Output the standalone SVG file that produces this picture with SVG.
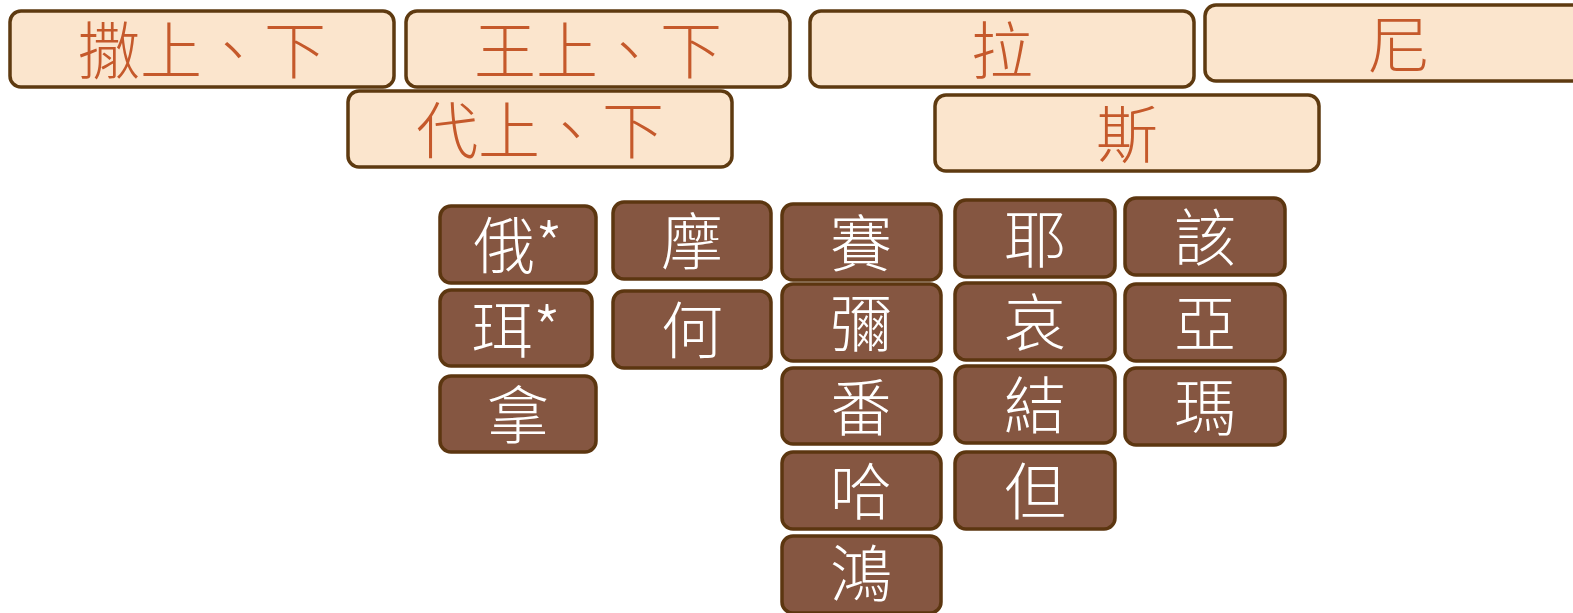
<svg xmlns="http://www.w3.org/2000/svg" width="1573" height="613" viewBox="0 0 1573 613">
<style>
text{font-family:"Noto Sans CJK TC","Noto Sans CJK SC",sans-serif;font-size:62px;font-weight:300;text-anchor:middle;dominant-baseline:central}
.top rect{fill:#FBE5CD;stroke:#5E3A10;stroke-width:3.5}
.top text{fill:#C5592B}
.bot rect{fill:#855641;stroke:#5C3610;stroke-width:3.5}
.bot text{fill:#FFFFFF}
</style>
<rect width="1573" height="613" fill="#FFFFFF"/>
<g id="n-sa" class="top"><rect x="10" y="11" width="384" height="76" rx="11"/><text x="202" y="47">撒上、下</text></g>
<g id="n-wang" class="top"><rect x="406" y="11" width="384" height="76" rx="11"/><text x="598" y="47">王上、下</text></g>
<g id="n-la" class="top"><rect x="810" y="11" width="384" height="76" rx="11"/><text x="1002" y="47">拉</text></g>
<g id="n-ni" class="top"><rect x="1205" y="5" width="384" height="76" rx="11"/><text x="1399" y="41">尼</text></g>
<g id="n-dai" class="top"><rect x="348" y="91" width="384" height="76" rx="11"/><text x="540" y="127">代上、下</text></g>
<g id="n-si" class="top"><rect x="935" y="95" width="384" height="76" rx="11"/><text x="1127" y="131">斯</text></g>

<g id="n-e" class="bot"><rect x="440" y="206" width="156" height="77" rx="11"/><text x="518" y="242">俄*</text></g>
<g id="n-er" class="bot"><rect x="440" y="290" width="152" height="76" rx="11"/><text x="516" y="326">珥*</text></g>
<g id="n-na" class="bot"><rect x="440" y="376" width="156" height="76" rx="11"/><text x="518" y="412">拿</text></g>
<g id="n-mo" class="bot"><rect x="613" y="202" width="158" height="77" rx="11"/><text x="692" y="238">摩</text></g>
<g id="n-he" class="bot"><rect x="613" y="291" width="158" height="77" rx="11"/><text x="692" y="327">何</text></g>
<g id="n-sai" class="bot"><rect x="782" y="204" width="159" height="76" rx="11"/><text x="861" y="240">賽</text></g>
<g id="n-mi" class="bot"><rect x="782" y="284" width="159" height="77" rx="11"/><text x="861" y="320">彌</text></g>
<g id="n-fan" class="bot"><rect x="782" y="368" width="159" height="76" rx="11"/><text x="861" y="404">番</text></g>
<g id="n-ha" class="bot"><rect x="782" y="452" width="159" height="77" rx="11"/><text x="861" y="488">哈</text></g>
<g id="n-hong" class="bot"><rect x="782" y="536" width="159" height="77" rx="11"/><text x="861" y="570">鴻</text></g>
<g id="n-ye" class="bot"><rect x="955" y="200" width="160" height="77" rx="11"/><text x="1035" y="236">耶</text></g>
<g id="n-ai" class="bot"><rect x="955" y="283" width="160" height="77" rx="11"/><text x="1035" y="319">哀</text></g>
<g id="n-jie" class="bot"><rect x="955" y="366" width="160" height="77" rx="11"/><text x="1035" y="402">結</text></g>
<g id="n-dan" class="bot"><rect x="955" y="452" width="160" height="77" rx="11"/><text x="1035" y="488">但</text></g>
<g id="n-gai" class="bot"><rect x="1125" y="198" width="160" height="77" rx="11"/><text x="1205" y="234">該</text></g>
<g id="n-ya" class="bot"><rect x="1125" y="284" width="160" height="77" rx="11"/><text x="1205" y="320">亞</text></g>
<g id="n-ma" class="bot"><rect x="1125" y="368" width="160" height="77" rx="11"/><text x="1205" y="404">瑪</text></g>
<g id="connectors"></g>
</svg>
